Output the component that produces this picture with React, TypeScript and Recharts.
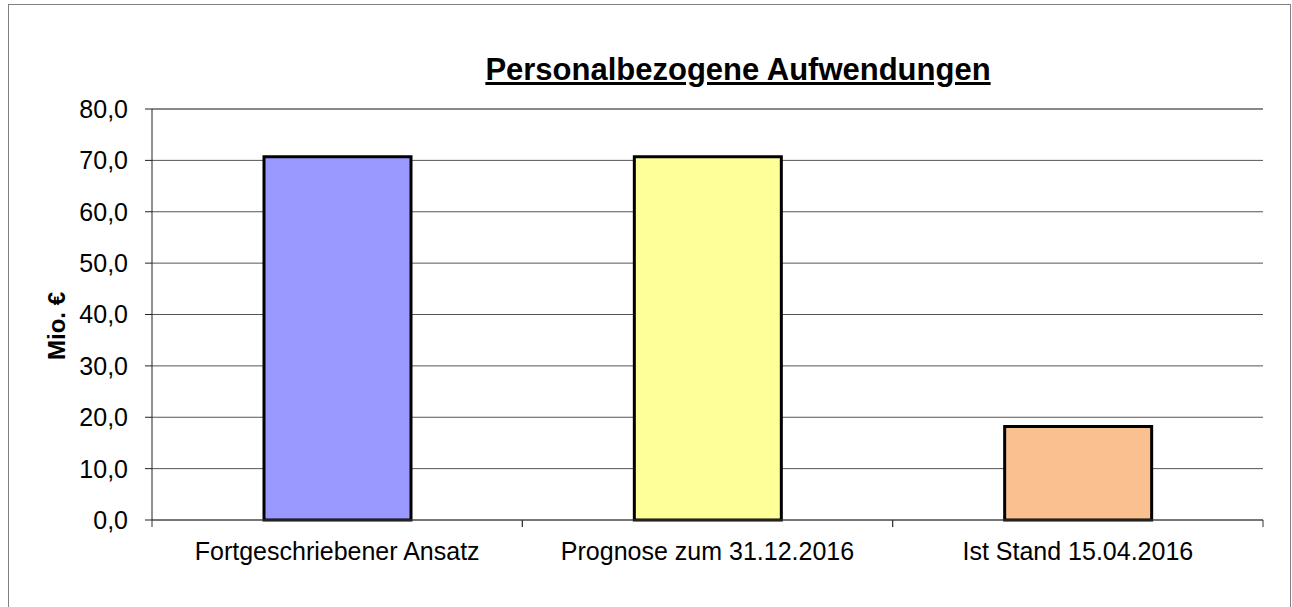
import { BarChart, Bar, XAxis, YAxis, CartesianGrid, Cell, ReferenceLine } from "recharts";

const categories = [
  "Fortgeschriebener Ansatz",
  "Prognose zum 31.12.2016",
  "Ist Stand 15.04.2016",
];
const values = [70.7, 70.7, 18.2];
const barColors = ["#9999FF", "#FFFF99", "#FAC090"];
const yTicks = [0, 10, 20, 30, 40, 50, 60, 70, 80];

const data = categories.map((name, i) => ({ name, value: values[i] }));

const FONT = '"Liberation Sans", Arial, Helvetica, sans-serif';
const W = 1281;
const H = 620;
const MARGIN = { top: 104, right: 27, bottom: 45, left: 0 };
const Y_W = 143;
const BAND = (W - MARGIN.left - MARGIN.right - Y_W) / categories.length;

const fmt = (v: number) => v.toFixed(1).replace(".", ",");

// category label in the middle, tick marks on the category boundaries
function CategoryTick(props: any) {
  const { x, y, payload } = props;
  const axisY = y - 22;
  return (
    <g>
      <line x1={x - BAND / 2} x2={x - BAND / 2} y1={axisY} y2={axisY + 7} stroke="#333" />
      <line x1={x + BAND / 2} x2={x + BAND / 2} y1={axisY} y2={axisY + 7} stroke="#333" />
      <text x={x} y={y} dy="0.71em" textAnchor="middle" fontSize={25} fill="#000" fontFamily={FONT}>
        {payload.value}
      </text>
    </g>
  );
}

export default function App() {
  return (
    <div
      style={{
        position: "absolute",
        left: 8,
        top: 4,
        width: W + 2,
        height: 660,
        border: "1px solid #808080",
        boxSizing: "border-box",
        background: "#fff",
        fontFamily: FONT,
      }}
    >
      <div
        style={{
          position: "absolute",
          left: 738 - 9 - 400,
          top: 49,
          width: 800,
          textAlign: "center",
          fontSize: 31,
          lineHeight: "31px",
          fontWeight: "bold",
          textDecoration: "underline",
          color: "#000",
        }}
      >
        Personalbezogene Aufwendungen
      </div>
      <div
        style={{
          position: "absolute",
          left: 57 - 9,
          top: 326 - 5,
          transform: "translate(-50%, -50%) rotate(-90deg)",
          fontSize: 24,
          fontWeight: "bold",
          whiteSpace: "nowrap",
          color: "#000",
        }}
      >
        Mio. €
      </div>
      <BarChart width={W} height={H} data={data} margin={MARGIN}>
        <CartesianGrid vertical={false} stroke="#555" />
        <XAxis
          dataKey="name"
          height={60}
          tickLine={false}
          tickSize={0}
          tickMargin={22}
          axisLine={{ stroke: "#444" }}
          tick={<CategoryTick />}
          interval={0}
        />
        <YAxis
          width={Y_W}
          domain={[0, 80]}
          ticks={yTicks}
          tickFormatter={fmt}
          tickSize={7}
          tickMargin={17}
          tick={{ fontSize: 25, fill: "#000", fontFamily: FONT }}
          axisLine={{ stroke: "#222" }}
          tickLine={{ stroke: "#222" }}
        />
        <YAxis
          yAxisId="r"
          orientation="right"
          width={0}
          domain={[0, 80]}
          tick={false}
          tickLine={false}
          axisLine={{ stroke: "#999", strokeWidth: 3 }}
        />
        <ReferenceLine y={80} stroke="#888" strokeWidth={2} />
        <Bar dataKey="value" barSize={147} stroke="#000" strokeWidth={3} isAnimationActive={false}>
          {data.map((d, i) => (
            <Cell key={d.name} fill={barColors[i]} />
          ))}
        </Bar>
      </BarChart>
    </div>
  );
}
